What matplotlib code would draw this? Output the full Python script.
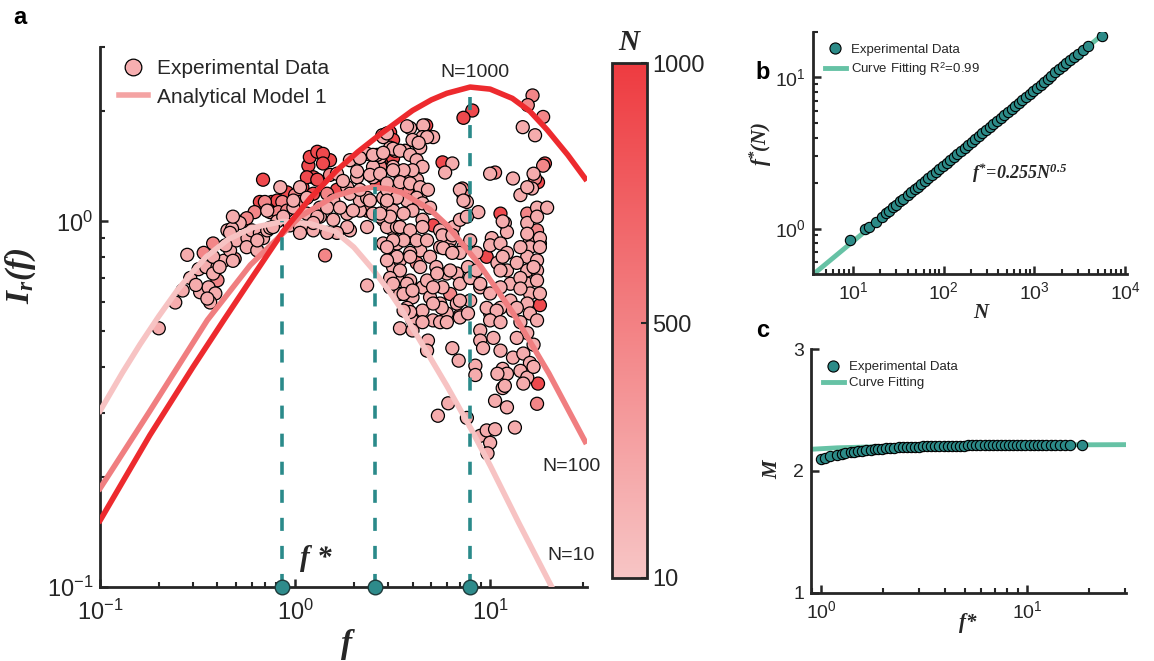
import matplotlib
matplotlib.use("Agg")
import matplotlib.pyplot as plt
from matplotlib.colors import LinearSegmentedColormap, Normalize
from matplotlib.cm import ScalarMappable
from matplotlib.lines import Line2D
import numpy as np

plt.rcParams['font.family'] = ['Liberation Sans', 'DejaVu Sans']
plt.rcParams['mathtext.fontset'] = 'custom'
plt.rcParams['mathtext.rm'] = 'Liberation Sans'
plt.rcParams['mathtext.it'] = 'Liberation Serif:italic:bold'
plt.rcParams['mathtext.bf'] = 'Liberation Sans:bold'
plt.rcParams['axes.linewidth'] = 2
plt.rcParams['lines.scale_dashes'] = False

# ---------------- panel a data ----------------
# experimental points, grouped by colour (N)
N_dark = 900
f_dark = [0.685, 0.76, 0.81, 0.91, 1.09, 1.17, 0.66, 1.24, 1.51, 1.19, 1.30, 2.63, 1.39, 1.39,
          1.15, 1.30, 1.64, 1.24, 3.14, 3.07, 4.7, 3.18, 5.7, 8.1, 7.3, 17.6, 11.3, 5.1, 9.6,
          3.18, 19.1, 18.0, 17.6]
I_dark = [1.30, 1.13, 1.14, 1.20, 1.24, 1.42, 1.13, 1.32, 1.47, 1.50, 1.55, 1.27, 1.53, 1.44,
          1.32, 1.30, 1.22, 1.19, 1.47, 1.75, 1.83, 1.49, 1.45, 2.01, 1.92, 1.28, 1.05, 0.975, 0.80,
          1.67, 1.44, 0.59, 0.36]

N_mid = 460
f_mid = [0.34, 0.40, 0.49, 0.54, 0.70, 0.86, 1.0, 1.06, 0.62, 0.565, 0.745, 0.82, 0.91, 0.38,
         1.51, 1.46, 2.73, 3.26, 3.75, 2.34, 1.425, 3.07, 4.2, 2.8, 4.64, 2.73, 16.5, 15.6, 18.7,
         10.6, 18.7, 17.0, 7.2, 7.3, 15.5, 17.4, 18.0, 6.24, 7.0, 17.4]
I_mid = [0.82, 0.69, 0.79, 1.0, 1.13, 1.13, 1.18, 1.13, 1.06, 1.02, 1.06, 1.06, 1.07, 0.87,
         1.34, 1.19, 1.34, 1.56, 1.22, 1.07, 0.807, 1.05, 0.77, 1.72, 1.72, 1.41, 2.21, 2.08, 1.93,
         1.36, 1.42, 1.31, 1.23, 1.18, 1.05, 0.945, 0.87, 0.633, 0.553, 0.317]

N_light = 190
f_light = [
    0.20, 0.243, 0.29, 0.32, 0.35, 0.326, 0.36, 0.39, 0.367, 0.43, 0.45, 0.464, 0.50, 0.57, 0.60,
    0.565, 0.64, 0.66, 0.685, 0.72, 0.745, 0.52, 0.475, 0.44, 0.40, 0.38, 0.355, 0.98, 0.81, 0.94,
    1.06, 1.15, 0.28, 0.31, 0.265,
    0.48, 0.72, 0.84, 0.98, 1.06, 1.15, 1.34, 1.57, 1.85, 2.08, 2.34, 2.73, 3.07, 3.18, 2.51, 1.91,
    1.64, 0.464, 0.38, 0.41, 0.48, 0.64, 0.77, 0.87, 1.15, 1.34, 1.57, 1.85, 2.15, 2.51, 2.83, 3.18,
    1.91, 1.24, 1.06, 2.15, 2.96, 3.33, 2.83, 3.18, 2.34, 2.51, 3.07, 3.18,
    1.76, 2.08, 2.42, 2.63, 2.83, 3.89, 4.54, 1.91, 2.15, 2.42, 2.96, 3.45, 3.89, 4.22, 4.38, 1.46,
    1.70, 1.98, 1.30, 1.85, 2.34, 1.64, 1.46, 1.24, 2.34, 2.73, 2.96, 3.33, 2.83, 3.33, 3.89, 4.38,
    3.89, 3.45, 3.33, 3.89, 4.5, 3.07, 4.0, 4.5,
    4.2, 5.1, 3.18, 3.66, 2.51, 2.15,
    4.5, 4.38, 6.4, 5.88, 14.7, 17.0, 13.1, 16.4, 14.3, 7.6, 8.7, 11.9, 12.2, 10.2, 10.0, 17.4, 19.6,
    15.5, 16.0, 5.54, 6.5, 6.24, 7.3,
    2.96, 3.75, 4.75, 4.0, 4.3, 2.83, 3.45, 3.89, 4.2, 4.5, 4.0, 3.6, 3.18, 2.73, 2.96, 3.45, 3.89,
    4.38, 4.8, 4.2, 3.75, 3.33, 2.96, 4.5, 4.92, 4.0, 3.6, 3.07, 2.73, 3.45, 3.89, 4.5, 4.2, 3.6,
    3.18, 4.75, 5.7, 6.4, 7.0, 5.54, 6.24, 7.0, 4.92, 3.89, 3.33, 2.96, 4.38, 5.3, 6.0, 6.75, 3.45,
    3.07, 3.89, 4.75, 5.7, 7.0, 3.45, 4.92, 5.54, 6.75, 3.75, 4.5, 6.0, 7.0, 4.0, 5.1,
    7.0, 7.3, 7.6, 7.9, 8.5, 7.7, 8.2, 8.9, 7.9, 7.7,
    10.0, 15.5, 16.7, 11.6, 11.3, 12.2, 10.9, 12.2, 12.7, 11.3, 10.0, 12.7, 11.3, 13.1, 10.0,
    17.4, 15.5, 18.0, 16.0, 18.0, 15.5, 17.4, 15.5, 17.4, 15.5, 17.4, 16.0, 18.0, 15.5, 16.0, 17.4,
    14.3, 13.7,
    2.96, 5.75, 6.4, 3.18, 3.75, 3.6, 4.0, 5.1, 5.35, 6.24, 5.65, 5.1, 3.89, 3.6, 3.45, 4.0, 4.5,
    5.54, 7.0, 7.9, 8.5, 8.9, 4.8, 4.75, 6.0, 6.4, 6.9, 8.9, 8.4, 8.4, 11.6, 11.3, 9.6, 10.8, 10.0,
    11.3, 8.9, 10.4, 9.2, 11.3, 13.1, 11.6, 12.2, 10.9, 11.6, 10.6, 12.2, 13.4, 14.3, 16.7, 14.3,
    13.7, 14.3, 15.5, 16.7, 13.7, 14.8, 16.0, 14.3, 15.5, 16.7, 14.8, 11.9,
    6.1, 5.4, 7.6, 8.9, 9.6, 10.6, 10.0, 9.7]
I_light = [
    0.51, 0.60, 0.70, 0.74, 0.75, 0.64, 0.66, 0.635, 0.60, 0.78, 0.945, 0.833, 0.887, 0.90, 0.945,
    0.85, 0.833, 0.93, 0.90, 0.945, 0.96, 0.99, 0.955, 0.86, 0.75, 0.72, 0.615, 1.09, 1.0, 0.975,
    0.965, 0.965, 0.81, 0.67, 0.647,
    1.03, 1.07, 1.24, 1.14, 1.24, 1.16, 1.09, 1.14, 1.24, 1.32, 1.53, 1.50, 1.59, 1.41, 1.41, 1.47,
    1.35, 0.93, 0.80, 0.75, 0.78, 0.887, 0.965, 1.03, 1.05, 1.03, 1.01, 1.05, 1.07, 1.05, 1.01, 0.945,
    0.945, 0.945, 0.93, 1.14, 1.12, 1.24, 1.16, 1.07, 1.16, 1.32, 0.85, 0.75,
    1.29, 1.37, 1.34, 1.52, 1.70, 1.80, 1.83, 1.19, 1.22, 1.14, 1.22, 1.34, 1.35, 1.30, 1.16, 1.09,
    1.09, 1.07, 1.03, 0.965, 0.965, 0.93, 0.93, 0.99, 0.668, 1.03, 0.965, 0.965, 0.87, 0.87, 0.90, 0.833,
    0.82, 0.782, 0.70, 0.675, 0.66, 0.66, 0.62, 1.01,
    1.65, 1.70, 1.58, 1.56, 1.52, 1.49,
    1.70, 1.59, 1.44, 1.36, 1.81, 1.72, 1.31, 1.23, 1.18, 1.13, 1.06, 0.99, 0.935, 0.90, 0.86, 1.09, 1.09,
    0.99, 0.887, 0.945, 0.965, 0.887, 0.85,
    1.74, 1.82, 1.70, 1.67, 1.64, 1.54, 1.56, 1.52, 1.47, 1.41, 1.38, 1.38, 1.38, 1.35, 1.27, 1.28, 1.27,
    1.24, 1.22, 1.16, 1.14, 1.16, 1.14, 1.12, 1.09, 1.07, 1.05, 1.03, 1.05, 0.965, 0.945, 0.965, 0.887, 0.887,
    0.887, 0.887, 0.916, 0.916, 1.01, 0.85, 0.833, 0.82, 0.80, 0.80, 0.80, 0.782, 0.75, 0.75, 0.72, 0.72, 0.734,
    0.70, 0.689, 0.689, 0.66, 0.675, 0.633, 0.62, 0.596, 0.596, 0.58, 0.57, 0.56, 0.546, 0.536, 0.536,
    1.22, 1.14, 1.03, 0.887, 0.82, 0.75, 0.70, 0.66, 0.607, 0.56,
    1.35, 1.24, 1.35, 1.0, 0.87, 0.82, 0.77, 0.734, 0.675, 0.66, 0.635, 0.607, 0.58, 0.57, 0.56,
    1.03, 0.925, 0.90, 0.85, 0.85, 0.80, 0.782, 0.734, 0.734, 0.675, 0.689, 0.635, 0.635, 0.596, 0.56, 0.536,
    0.70, 0.77,
    0.85, 0.845, 0.82, 0.675, 0.675, 0.633, 0.647, 0.66, 0.72, 0.734, 0.58, 0.596, 0.565, 0.57, 0.51, 0.503, 0.53,
    0.53, 0.607, 0.70, 0.734, 0.675, 0.472, 0.443, 0.53, 0.45, 0.416, 0.503, 0.403, 0.38, 0.80, 0.734, 0.58, 0.57, 0.536,
    0.53, 0.472, 0.48, 0.45, 0.443, 0.424, 0.395, 0.383, 0.383, 0.35, 0.323, 0.31, 0.273, 0.85, 0.75, 0.655,
    0.58, 0.53, 0.495, 0.46, 0.48, 0.435, 0.41, 0.39, 0.374, 0.40, 0.36, 0.355,
    0.318, 0.294, 0.29, 0.259, 0.268, 0.27, 0.248, 0.232]

# analytical model curves
f_model10 = [0.1, 0.13, 0.16, 0.2, 0.25, 0.3, 0.35, 0.45, 0.6, 0.87, 1.2, 1.6, 2.0, 2.5, 3.0,
             3.5, 4.5, 6.0, 8.0, 10, 14, 20.7, 22]
I_model10 = [0.303, 0.385, 0.46, 0.55, 0.65, 0.73, 0.80, 0.89, 0.96, 1.0, 0.985, 0.94, 0.85, 0.74,
             0.65, 0.575, 0.46, 0.355, 0.27, 0.215, 0.15, 0.10, 0.093]
f_model100 = [0.1, 0.178, 0.355, 0.59, 0.8, 1.06, 1.58, 2.0, 2.5, 3.0, 3.5, 4.9, 6.0, 8.9, 13.1, 20, 30.7]
I_model100 = [0.186, 0.30, 0.537, 0.76, 0.89, 1.03, 1.17, 1.215, 1.24, 1.228, 1.20, 1.08, 0.977,
              0.757, 0.562, 0.384, 0.25]
f_model1000 = [0.1, 0.18, 0.3, 0.43, 0.6, 0.87, 1.2, 1.64, 2.1, 2.73, 4.0, 5.0, 6.0, 7.9, 10, 13,
               16, 19.6, 25, 30.7]
I_model1000 = [0.152, 0.26, 0.40, 0.536, 0.70, 0.94, 1.16, 1.38, 1.55, 1.73, 2.01, 2.15, 2.24, 2.33,
               2.30, 2.17, 2.0, 1.78, 1.52, 1.31]

f_peak = [0.86, 2.57, 7.9]
I_peak = [1.0, 1.24, 2.33]

# ---------------- panel b data ----------------
N_b = [9.3, 13.6, 15, 18, 21, 23, 25, 28, 30, 33, 36, 40, 44, 48, 52, 57, 62, 68, 75, 82,
       90, 98, 108, 118, 130, 142, 155, 170, 186, 204, 224, 245, 268, 294, 322, 353, 387, 424, 465, 510,
       560, 613, 672, 737, 808, 886, 972, 1066, 1170, 1280, 1400, 1540, 1700, 1870, 2050, 2250, 2480,
       2750, 3050, 3400, 3900, 5600]
fstar_b = [0.84, 1.0, 1.02, 1.11, 1.20, 1.26, 1.31, 1.39, 1.44, 1.51, 1.58, 1.66, 1.74, 1.82, 1.89,
           1.98, 2.07, 2.17, 2.27, 2.38, 2.49, 2.60, 2.73, 2.85, 2.99, 3.13, 3.27, 3.42, 3.58, 3.75,
           3.93, 4.11, 4.30, 4.50, 4.71, 4.93, 5.17, 5.40, 5.66, 5.93, 6.21, 6.50, 6.80, 7.12, 7.46,
           7.81, 8.18, 8.56, 8.97, 9.38, 9.80, 10.3, 10.8, 11.3, 11.85, 12.4, 13.0, 13.7, 14.4, 15.2,
           16.2, 18.7]
N_fit = [3.7, 5800]
fstar_fit = [0.50, 19.5]

# ---------------- panel c data ----------------
fstar_c = [1.0, 1.05, 1.11, 1.20, 1.26, 1.31, 1.39, 1.44, 1.51, 1.58, 1.66, 1.74, 1.82, 1.89, 1.98,
           2.07, 2.17, 2.27, 2.38, 2.49, 2.60, 2.73, 2.85, 2.99, 3.13, 3.27, 3.42, 3.58, 3.75, 3.93,
           4.11, 4.30, 4.50, 4.71, 4.93, 5.17, 5.40, 5.66, 5.93, 6.21, 6.50, 6.80, 7.12, 7.46, 7.81,
           8.18, 8.56, 8.97, 9.38, 9.80, 10.3, 10.8, 11.3, 11.85, 12.4, 13.0, 13.7, 14.4, 15.2, 16.2, 18.5]
M_c = [2.095, 2.11, 2.12, 2.135, 2.14, 2.145, 2.152, 2.156, 2.16, 2.165, 2.17, 2.174, 2.178, 2.181,
       2.184, 2.187, 2.19, 2.192, 2.194, 2.196, 2.197, 2.198, 2.199, 2.20, 2.201, 2.202, 2.203, 2.204,
       2.205, 2.206, 2.207, 2.208, 2.208, 2.209, 2.209, 2.21, 2.21, 2.21, 2.211, 2.211, 2.211, 2.212,
       2.212, 2.212, 2.213, 2.213, 2.213, 2.214, 2.214, 2.214, 2.214, 2.215, 2.215, 2.215, 2.215, 2.215,
       2.215, 2.214, 2.214, 2.214, 2.213]
fstar_cfit = [0.89, 1.2, 2.0, 4.0, 10, 30.2]
M_cfit = [2.178, 2.19, 2.20, 2.208, 2.213, 2.216]

# ---------------- styling ----------------
cmap = LinearSegmentedColormap.from_list("pinkred", ["#F7C5C5", "#EE3B40"])
norm = Normalize(10, 1000)
teal = "#2C8B88"
mint = "#66C2A5"
dark = "#262626"
serif_bi = dict(family="Liberation Serif", style="italic", weight="bold")


def style_axes(a, size, xpad=5):
    for s in ["top", "right"]:
        a.spines[s].set_visible(False)
    for s in ["left", "bottom"]:
        a.spines[s].set_color(dark)
    a.tick_params(which="major", direction="in", length=6, width=1.8, labelsize=size,
                  colors=dark, pad=5)
    a.tick_params(axis="x", which="major", pad=xpad)
    a.tick_params(which="minor", direction="in", length=3.5, width=1.5, colors=dark)


fig = plt.figure(figsize=(11.54, 6.61), dpi=100)

# ---------------- panel a ----------------
ax = fig.add_axes([0.0867, 0.112, 0.422, 0.817])
ax.set_xscale("log")
ax.set_yscale("log")
ax.set_xlim(0.1, 31.4)
ax.set_ylim(0.1, 3.0)

f_all = f_dark + f_mid + f_light
I_all = I_dark + I_mid + I_light
N_all = [N_dark] * len(f_dark) + [N_mid] * len(f_mid) + [N_light] * len(f_light)
ax.scatter(f_all, I_all, c=N_all, cmap=cmap, norm=norm, s=88, edgecolors="black",
           linewidths=0.9, zorder=2)

ax.plot(f_model10, I_model10, color="#F7C3C3", lw=4, zorder=3)
ax.plot(f_model100, I_model100, color="#F07E80", lw=4, zorder=3)
ax.plot(f_model1000, I_model1000, color="#ED2A2E", lw=4, zorder=3)

for fp, ip in zip(f_peak, I_peak):
    ax.plot([fp, fp], [0.1, ip], color="#2A8A8A", lw=2.6, dashes=(9.4, 10.8), zorder=4)
ax.plot(f_peak, [0.1] * len(f_peak), "o", ms=10.5, mfc="#2E8B8B", mec="#1E3A3A", mew=1.0,
        clip_on=False, zorder=6)

ax.text(8.38, 2.55, "N=1000", fontsize=14, ha="center", va="center", color=dark)
ax.text(26.0, 0.213, "N=100", fontsize=14, ha="center", va="center", color=dark)
ax.text(26.0, 0.1216, "N=10", fontsize=14, ha="center", va="center", color=dark)
ax.text(1.28, 0.12, "f *", fontsize=21, ha="center", va="center", color=dark, **serif_bi)

style_axes(ax, 17, xpad=9)
ax.set_xlabel("f", fontsize=24, color=dark, **serif_bi)
ax.xaxis.set_label_coords(0.507, -0.078)
ax.set_ylabel(r"$\mathdefault{I_r(f)}$", fontsize=24, color=dark, **serif_bi)
ax.yaxis.set_label_coords(-0.128, 0.576)

h_exp = Line2D([], [], ls="", marker="o", ms=12, mfc="#F6AEB0", mec="black", mew=0.9)
h_mod = Line2D([], [], color="#F4A3A3", lw=4)
ax.legend([h_exp, h_mod], ["Experimental Data", "Analytical Model 1"], loc="upper left",
          bbox_to_anchor=(0.0, 1.012), frameon=False, fontsize=15, handlelength=1.4,
          handletextpad=0.45, labelspacing=0.45, labelcolor=dark)

# colorbar
cax = fig.add_axes([0.5303, 0.1256, 0.0303, 0.779])
cb = fig.colorbar(ScalarMappable(norm=norm, cmap=cmap), cax=cax, ticks=[10, 500, 1000])
cb.outline.set_linewidth(2)
cb.outline.set_edgecolor(dark)
cax.tick_params(labelsize=17, direction="in", length=4, width=1.5, colors=dark)
fig.text(0.545, 0.936, "N", fontsize=21, ha="center", va="center", color=dark, **serif_bi)

fig.text(0.017, 0.973, "a", fontsize=17, weight="bold", ha="center", va="center")

# ---------------- panel b ----------------
axb = fig.add_axes([0.7045, 0.5855, 0.2721, 0.3661])
axb.set_xscale("log")
axb.set_yscale("log")
axb.set_xlim(3.63, 10500)
axb.set_ylim(0.5, 20)
axb.plot(N_fit, fstar_fit, color=mint, lw=3.5, zorder=2)
axb.scatter(N_b, fstar_b, s=55, color=teal, edgecolors="black", linewidths=0.8, zorder=3)
style_axes(axb, 14)
axb.set_xlabel("N", fontsize=15, color=dark, **serif_bi)
axb.xaxis.set_label_coords(0.535, -0.12)
axb.set_ylabel(r"$\mathdefault{f^{*}(N)}$", fontsize=15, color=dark, **serif_bi)
axb.yaxis.set_label_coords(-0.125, 0.54)
axb.text(684, 2.31, r"$\mathdefault{f^{*}\!=\!0.255N^{0.5}}$", fontsize=13, ha="center",
         va="center", color=dark, **serif_bi)
hb1 = Line2D([], [], ls="", marker="o", ms=8, mfc=teal, mec="black", mew=0.8)
hb2 = Line2D([], [], color=mint, lw=3.5)
axb.legend([hb1, hb2], ["Experimental Data", r"Curve Fitting R$^2$=0.99"], loc="upper left",
           bbox_to_anchor=(0.0, 1.0), frameon=False, fontsize=9.5, handlelength=1.6,
           handletextpad=0.4, labelspacing=0.3, labelcolor=dark)
fig.text(0.661, 0.89, "b", fontsize=17, weight="bold", ha="center", va="center")

# ---------------- panel c ----------------
axc = fig.add_axes([0.7028, 0.1029, 0.273, 0.3691])
axc.set_xscale("log")
axc.set_xlim(0.894, 30.2)
axc.set_ylim(1, 3)
axc.set_yticks([1, 2, 3])
axc.plot(fstar_cfit, M_cfit, color=mint, lw=3.5, zorder=2)
axc.scatter(fstar_c, M_c, s=55, color=teal, edgecolors="black", linewidths=0.8, zorder=3)
style_axes(axc, 14)
axc.set_xlabel("f*", fontsize=15, color=dark, **serif_bi)
axc.xaxis.set_label_coords(0.498, -0.08)
axc.set_ylabel("M", fontsize=15, color=dark, **serif_bi)
axc.yaxis.set_label_coords(-0.09, 0.504)
hc1 = Line2D([], [], ls="", marker="o", ms=8, mfc=teal, mec="black", mew=0.8)
hc2 = Line2D([], [], color=mint, lw=3.5)
axc.legend([hc1, hc2], ["Experimental Data", "Curve Fitting"], loc="upper left",
           bbox_to_anchor=(0.0, 1.0), frameon=False, fontsize=9.5, handlelength=1.6,
           handletextpad=0.4, labelspacing=0.3, labelcolor=dark)
fig.text(0.661, 0.50, "c", fontsize=17, weight="bold", ha="center", va="center")

fig.savefig("out.png", dpi=100)
